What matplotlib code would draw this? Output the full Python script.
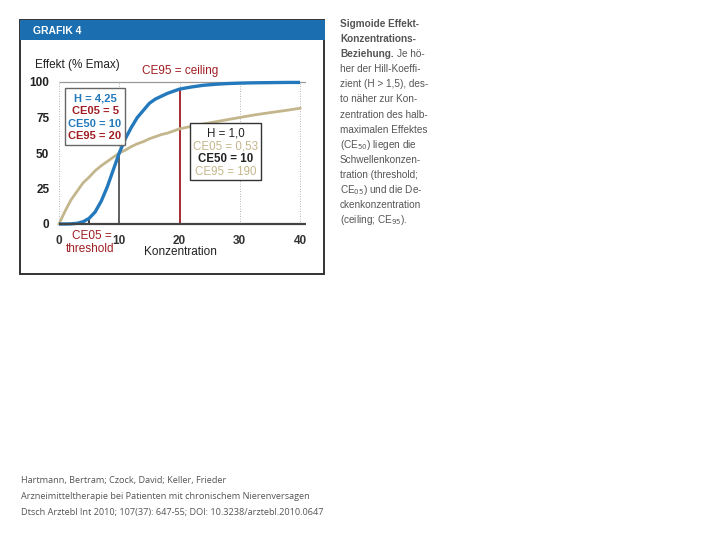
import matplotlib
matplotlib.use("Agg")
import matplotlib.pyplot as plt
from matplotlib.patches import Rectangle

# values
konz = [0, 1, 2, 3, 4, 5, 6, 7, 8, 9, 10, 11, 12, 13, 14, 15, 16, 17, 18, 19, 20,
        22, 24, 26, 28, 30, 32, 34, 36, 38, 40]
effekt_h425 = [0, 0, 0.1, 0.5, 1.6, 4, 8.5, 16, 26, 38, 50, 60, 68, 75, 80, 85, 88, 90, 92, 93.5, 95,
               96.5, 97.7, 98.4, 98.9, 99.2, 99.4, 99.5, 99.6, 99.7, 99.7]
effekt_h1 = [0, 9, 17, 23, 29, 33, 37.5, 41, 44, 47, 50, 52, 54.5, 56.5, 58, 60, 61.5, 63, 64, 65.5, 67,
             68.8, 70.5, 72, 73.5, 75, 76.5, 77.8, 79, 80.2, 81.5]
x_ticks = [0, 10, 20, 30, 40]
y_ticks = [0, 25, 50, 75, 100]
ce05 = 5
ce50 = 10
ce95 = 20

box1_lines = ["H = 4,25", "CE05 = 5", "CE50 = 10", "CE95 = 20"]
box2_lines = ["H = 1,0", "CE05 = 0,53", "CE50 = 10", "CE95 = 190"]

side_text = ["Sigmoide Effekt-", "Konzentrations-", "Beziehung.", "her der Hill-Koeffi-",
             "zient (H > 1,5), des-", "to näher zur Kon-", "zentration des halb-",
             "maximalen Effektes", r"(CE$_{50}$) liegen die", "Schwellenkonzen-",
             "tration (threshold;", r"CE$_{05}$) und die De-", "ckenkonzentration",
             r"(ceiling; CE$_{95}$)."]
quelle = ["Hartmann, Bertram; Czock, David; Keller, Frieder",
          "Arzneimitteltherapie bei Patienten mit chronischem Nierenversagen",
          "Dtsch Arztebl Int 2010; 107(37): 647-55; DOI: 10.3238/arztebl.2010.0647"]

BLUE = "#2379bb"
TAN = "#c4b68c"
RED = "#a01e24"
DARK = "#222222"
CHART_FONT = ["Liberation Sans", "DejaVu Sans"]

W, H = 720, 540
fig = plt.figure(figsize=(7.2, 5.4), dpi=100)


def fx(px):
    return px / W


def fy(py):
    return 1 - py / H


# panel frame and header
fig.patches.append(Rectangle((fx(20), fy(274)), fx(304), 254 / H, transform=fig.transFigure,
                             facecolor="white", edgecolor="#333333", lw=1.4, zorder=-5))
fig.patches.append(Rectangle((fx(20), fy(40)), fx(305), 20 / H, transform=fig.transFigure,
                             facecolor="#1b6fb0", edgecolor="none", zorder=-4))
fig.text(fx(33), fy(30.5), "GRAFIK 4", color="white", fontsize=7.5, fontweight="bold",
         family=CHART_FONT, va="center")

# plot area: x 0 -> px 59, 40 -> px 300 ; y 0 -> px 224, 100 -> px 82
x_px_per = (300 - 59) / 40
y_px_per = (224 - 82) / 100
xmax, ymin, ymax = 41, -3, 103
left = 59
bottom = 224 - ymin * y_px_per
ax = fig.add_axes([fx(left), fy(bottom), xmax * x_px_per / W, (ymax - ymin) * y_px_per / H])
ax.set_xlim(0, xmax)
ax.set_ylim(ymin, ymax)
ax.patch.set_alpha(0)
for s in ax.spines.values():
    s.set_visible(False)

for xt in x_ticks:
    ax.vlines(xt, 0, 100, colors="#9a9a9a", lw=0.6, linestyles=(0, (1, 2)), zorder=1)
ax.hlines(100, 0, xmax, colors="#9a9a9a", lw=0.9, zorder=1)
ax.hlines(0, 0, xmax, colors="#444444", lw=1.6, zorder=4)

ax.vlines(ce50, 0, 50, colors="#555555", lw=1.3, zorder=2)
ax.vlines(ce95, 0, 95, colors=RED, lw=1.3, zorder=2)
ax.vlines(ce05, 0, 3, colors="#333333", lw=1.3, zorder=2)

ax.plot(konz, effekt_h1, color=TAN, lw=2.0, zorder=3, clip_on=False)
ax.plot(konz, effekt_h425, color=BLUE, lw=2.4, zorder=3, clip_on=False, solid_capstyle="butt")

ax.set_xticks(x_ticks)
ax.set_yticks(y_ticks)
ax.set_xticklabels([str(t) for t in x_ticks], family=CHART_FONT, fontsize=8.5,
                   fontweight="bold", color="#333333")
ax.set_yticklabels([str(t) for t in y_ticks], family=CHART_FONT, fontsize=8.5,
                   fontweight="bold", color=DARK)
ax.tick_params(length=0, pad=7)
ax.tick_params(axis="x", pad=5)

# chart labels
fig.text(fx(35), fy(65), "Effekt (% Emax)", fontsize=8.5, family=CHART_FONT, color=DARK, va="center")
fig.text(fx(180), fy(71), "CE95 = ceiling", fontsize=8.5, family=CHART_FONT, color=RED,
         va="center", ha="center")
fig.text(fx(72), fy(236), "CE05 =", fontsize=8.5, family=CHART_FONT, color=RED, va="center")
fig.text(fx(66), fy(249), "threshold", fontsize=8.5, family=CHART_FONT, color=RED, va="center")
fig.text(fx(180), fy(252), "Konzentration", fontsize=8.5, family=CHART_FONT, color=DARK,
         va="center", ha="center")

# info boxes
fig.patches.append(Rectangle((fx(65), fy(145)), 60 / W, 57 / H, transform=fig.transFigure,
                             facecolor="white", edgecolor="#666666", lw=1.0, zorder=5))
for i, (txt, col) in enumerate(zip(box1_lines, [BLUE, RED, BLUE, RED])):
    fig.text(fx(95), fy(98.5 + i * 12.6), txt, color=col, fontsize=8, fontweight="bold",
             family=CHART_FONT, ha="center", va="center", zorder=6)

fig.patches.append(Rectangle((fx(190), fy(180)), 71 / W, 57 / H, transform=fig.transFigure,
                             facecolor="white", edgecolor="#333333", lw=1.0, zorder=5))
for i, (txt, col, wt) in enumerate(zip(box2_lines, [DARK, TAN, DARK, TAN],
                                       ["normal", "normal", "bold", "normal"])):
    fig.text(fx(225.5), fy(134 + i * 12.6), txt, color=col, fontsize=8.3, fontweight=wt,
             family=CHART_FONT, ha="center", va="center", zorder=6)

# caption at the right
GREY = "#555555"
bold_line = None
for i, line in enumerate(side_text):
    y = fy(24 + i * 15.1)
    wt = "bold" if i < 3 else "normal"
    t = fig.text(fx(340), y, line, color=GREY, fontsize=7.2, fontweight=wt,
                 family=CHART_FONT, va="center")
    if i == 2:
        bold_line = t
fig.draw_without_rendering()
fig.text(0, 0, "Je hö-", color=GREY, fontsize=7.2, family=CHART_FONT, va="center",
         transform=bold_line.get_transform()).set_position(
    (bold_line.get_window_extent().x1 / W + 3 / W, fy(24 + 2 * 15.1)))

# source
for i, line in enumerate(quelle):
    fig.text(fx(21), fy(481 + i * 15.5), line, color="#555555", fontsize=6.6,
             family=["Open Sans", "DejaVu Sans"], va="center")

fig.savefig("out.png", dpi=100)
